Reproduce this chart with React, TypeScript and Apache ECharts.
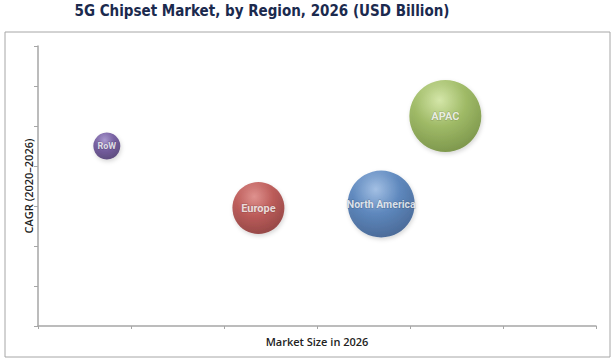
import React, { useEffect, useRef } from "react";
import * as echarts from "echarts";

const regions = ["RoW", "Europe", "North America", "APAC"];
const marketSize = [0.74, 2.37, 3.69, 4.38];
const cagr = [4.5, 2.95, 3.05, 5.25];
const bubbleSize = [27, 52, 67, 72];
const lightColors = ["#9a86c8", "#dc7e7a", "#93b6e2", "#cfe59a"];
const midColors = ["#5b3f8f", "#b23d3a", "#3f72b3", "#8fb04a"];
const darkColors = ["#3a255f", "#7a1f1e", "#23487e", "#5e7d24"];
const labelSizes = [9, 11, 10.5, 11];

export default function App() {
  const ref = useRef<HTMLDivElement>(null);
  useEffect(() => {
    const chart = echarts.init(ref.current!, null, { renderer: "svg" });
    const data = regions.map((name, i) => ({
      name,
      value: [marketSize[i], cagr[i], bubbleSize[i]],
      itemStyle: {
        color: new echarts.graphic.RadialGradient(0.42, 0.28, 0.8, [
          { offset: 0, color: lightColors[i] },
          { offset: 0.45, color: midColors[i] },
          { offset: 1, color: darkColors[i] },
        ]),
      },
      label: { fontSize: labelSizes[i] },
    }));
    chart.setOption({
      animation: false,
      backgroundColor: "#ffffff",
      graphic: [
        {
          type: "rect",
          shape: { x: 5, y: 32, width: 605, height: 325 },
          style: { fill: "none", stroke: "#a6a6a6", lineWidth: 1 },
        },
        {
          type: "text",
          x: 262,
          y: 11,
          style: {
            text: "5G Chipset Market, by Region, 2026 (USD Billion)",
            fill: "#1b2a4e",
            font: "bold 15px 'DejaVu Sans Condensed', 'DejaVu Sans', sans-serif",
            align: "center",
            verticalAlign: "middle",
          },
        },
      ],
      grid: { left: 38, top: 46, width: 558, height: 280 },
      xAxis: {
        type: "value",
        min: 0,
        max: 6,
        interval: 1,
        name: "Market Size in 2026",
        nameLocation: "middle",
        nameGap: 10,
        nameTextStyle: {
          fontFamily: "'Open Sans', sans-serif",
          fontWeight: 600,
          fontSize: 11,
          color: "#222222",
        },
        axisLine: { show: true, lineStyle: { color: "#a6a6a6", width: 1.5 } },
        axisTick: { show: true, length: 3, lineStyle: { color: "#a6a6a6" } },
        axisLabel: { show: false },
        splitLine: { show: false },
      },
      yAxis: {
        type: "value",
        min: 0,
        max: 7,
        interval: 1,
        name: "CAGR (2020–2026)",
        nameLocation: "middle",
        nameGap: 4,
        nameTextStyle: {
          fontFamily: "'Open Sans', sans-serif",
          fontWeight: 600,
          fontSize: 11,
          color: "#222222",
        },
        axisLine: { show: true, lineStyle: { color: "#a6a6a6", width: 1.5 } },
        axisTick: { show: true, length: 4, lineStyle: { color: "#a6a6a6" } },
        axisLabel: { show: false },
        splitLine: { show: false },
      },
      series: [
        {
          type: "scatter",
          data,
          symbolSize: (v: number[]) => v[2],
          itemStyle: {
            shadowBlur: 4,
            shadowColor: "rgba(0,0,0,0.2)",
            shadowOffsetX: 1,
            shadowOffsetY: 2,
          },
          label: {
            show: true,
            position: "inside",
            formatter: "{b}",
            color: "#ffffff",
            fontWeight: "bold",
            fontFamily: "Roboto, sans-serif",
            textBorderColor: "rgba(0,0,0,0.25)",
            textBorderWidth: 1,
          },
        },
      ],
    });
    return () => chart.dispose();
  }, []);
  return (
    <div
      ref={ref}
      style={{ position: "fixed", left: 0, top: 0, width: 614, height: 361 }}
    />
  );
}
